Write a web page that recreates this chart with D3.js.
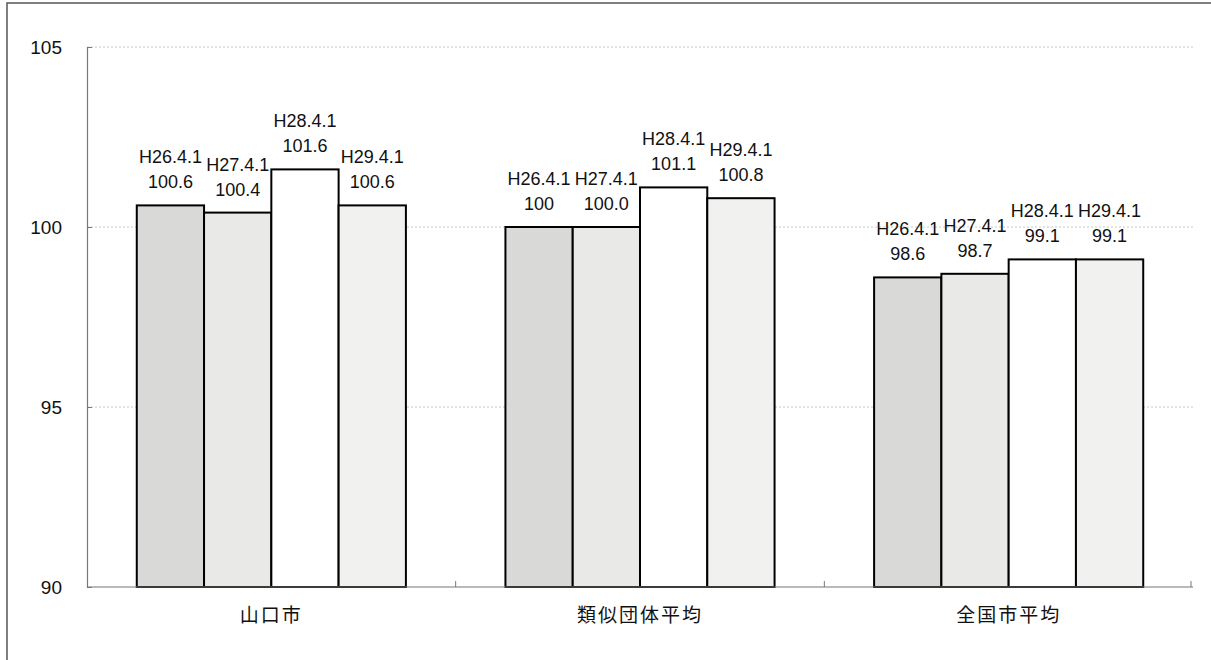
<!DOCTYPE html>
<html>
<head>
<meta charset="utf-8">
<script src="https://d3js.org/d3.v7.min.js"></script>
<style>
  body { margin: 0; background: #fff; }
  text { font-family: "Liberation Sans", Arial, sans-serif; fill: #111; }
  .cat { font-family: "Noto Sans CJK JP", sans-serif; }
</style>
</head>
<body>
<div id="chart"></div>
<script>
var svgWidth = 1211;
var svgHeight = 660;

// data
var groups = ["山口市", "類似団体平均", "全国市平均"];
var seriesNames = ["H26.4.1", "H27.4.1", "H28.4.1", "H29.4.1"];
var values = [
  [100.6, 100.4, 101.6, 100.6],
  [100, 100.0, 101.1, 100.8],
  [98.6, 98.7, 99.1, 99.1]
];
var valueLabels = [
  ["100.6", "100.4", "101.6", "100.6"],
  ["100", "100.0", "101.1", "100.8"],
  ["98.6", "98.7", "99.1", "99.1"]
];
var yTicks = [90, 95, 100, 105];
var fills = ["#d9d9d7", "#e9e9e7", "#ffffff", "#f1f1ef"];

var margin = { top: 47, right: 18, bottom: 73, left: 87 };
var width = svgWidth - margin.left - margin.right;
var height = svgHeight - margin.top - margin.bottom;

var svg = d3.select("#chart")
  .append("svg")
  .attr("width", svgWidth)
  .attr("height", svgHeight);

// outer frame (runs off the right and bottom edge)
svg.append("rect")
  .attr("x", 7).attr("y", 3)
  .attr("width", svgWidth).attr("height", svgHeight)
  .attr("fill", "none")
  .attr("stroke", "#555")
  .attr("stroke-width", 1.5);

var chartGroup = svg.append("g")
  .attr("transform", `translate(${margin.left}, ${margin.top})`);

// scales
var x0 = d3.scaleBand()
  .domain(groups)
  .range([0, width])
  .paddingInner(0.27)
  .paddingOuter(0.135);

var x1 = d3.scaleBand()
  .domain(seriesNames)
  .range([0, x0.bandwidth()]);

var y = d3.scaleLinear()
  .domain([90, 105])
  .range([height, 0]);

// gridlines
chartGroup.selectAll("line.grid")
  .data(yTicks.filter(d => d > 90))
  .enter()
  .append("line")
  .attr("class", "grid")
  .attr("x1", 0).attr("x2", width)
  .attr("y1", d => y(d)).attr("y2", d => y(d))
  .attr("stroke", "#c8c8c8")
  .attr("stroke-dasharray", "2,2");

// bars
var groupSel = chartGroup.selectAll("g.group")
  .data(groups)
  .enter()
  .append("g")
  .attr("class", "group")
  .attr("transform", d => `translate(${x0(d)},0)`);

groupSel.each(function(g, gi) {
  var gsel = d3.select(this);
  var rows = seriesNames.map((s, si) => ({ s: s, si: si, v: values[gi][si], lab: valueLabels[gi][si] }));

  gsel.selectAll("rect")
    .data(rows)
    .enter()
    .append("rect")
    .attr("x", d => x1(d.s))
    .attr("y", d => y(d.v))
    .attr("width", x1.bandwidth())
    .attr("height", d => height - y(d.v))
    .attr("fill", d => fills[d.si])
    .attr("stroke", "#000")
    .attr("stroke-width", 2);

  gsel.selectAll("text.val")
    .data(rows)
    .enter()
    .append("text")
    .attr("class", "val")
    .attr("text-anchor", "middle")
    .attr("x", d => x1(d.s) + x1.bandwidth() / 2)
    .attr("y", d => y(d.v) - 17)
    .style("font-size", "18px")
    .text(d => d.lab);

  gsel.selectAll("text.ser")
    .data(rows)
    .enter()
    .append("text")
    .attr("class", "ser")
    .attr("text-anchor", "middle")
    .attr("x", d => x1(d.s) + x1.bandwidth() / 2)
    .attr("y", d => y(d.v) - 42)
    .style("font-size", "18px")
    .text(d => d.s);
});

// axes
var leftAxis = d3.axisLeft(y).tickValues(yTicks).tickSize(-5).tickPadding(25);
var yAxisG = chartGroup.append("g").call(leftAxis);
yAxisG.select(".domain").attr("stroke", "#777").attr("stroke-width", 1.2);
yAxisG.selectAll(".tick line").attr("stroke", "#777");
yAxisG.selectAll(".tick text")
  .style("font-size", "19px")
  .style("font-family", "Liberation Sans, Arial, sans-serif")
  .attr("fill", "#111");

var xAxisG = chartGroup.append("g")
  .attr("transform", `translate(0, ${height})`);
xAxisG.append("line")
  .attr("x1", 0).attr("x2", width)
  .attr("stroke", "#777").attr("stroke-width", 1.2);
// group boundary ticks
var step = x0.step();
var bounds = d3.range(1, groups.length + 1).map(i => x0(groups[0]) - step * x0.paddingInner() / 2 + step * i);
xAxisG.selectAll("line.bt")
  .data(bounds)
  .enter()
  .append("line")
  .attr("class", "bt")
  .attr("x1", d => Math.min(d, width - 2)).attr("x2", d => Math.min(d, width - 2))
  .attr("y1", 0).attr("y2", -6)
  .attr("stroke", "#777");

xAxisG.selectAll("text.cat")
  .data(groups)
  .enter()
  .append("text")
  .attr("class", "cat")
  .attr("text-anchor", "middle")
  .attr("x", d => x0(d) + x0.bandwidth() / 2)
  .attr("y", 35)
  .style("font-size", "19px")
  .style("letter-spacing", "2px")
  .text(d => d);
</script>
</body>
</html>
